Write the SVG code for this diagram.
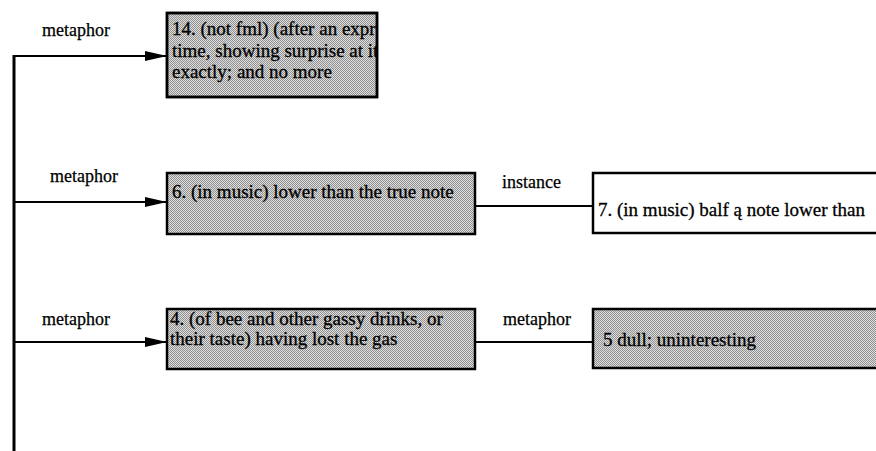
<svg xmlns="http://www.w3.org/2000/svg" width="876" height="451" viewBox="0 0 876 451">
  <defs>
    <!-- halftone-like grey fill for sense boxes -->
    <pattern id="dots" width="2" height="2" patternUnits="userSpaceOnUse">
      <rect width="2" height="2" fill="#dedede"/>
      <rect x="0" y="0" width="1" height="1" fill="#909090"/>
      <rect x="1" y="1" width="1" height="1" fill="#909090"/>
    </pattern>
    <!-- box 14 is narrower than its text; the text is cut at the frame -->
    <clipPath id="clip14">
      <rect x="167" y="13" width="210" height="84"/>
    </clipPath>
    <marker id="arrow" viewBox="0 0 22 10" refX="22" refY="5" markerWidth="22" markerHeight="10" markerUnits="userSpaceOnUse" orient="auto">
      <path d="M0,0 L22,5 L0,10 Z" fill="#000"/>
    </marker>
    <style>
      .box { stroke: #000; stroke-width: 2.5; }
      .grey { fill: url(#dots); }
      .plain { fill: #fff; }
      .txt { font-family: "Liberation Serif", "Times New Roman", serif; font-size: 19px; fill: #000; stroke: #000; stroke-width: 0.3; }
      .lbl { font-family: "Liberation Serif", "Times New Roman", serif; font-size: 18px; fill: #000; stroke: #000; stroke-width: 0.25; }
      .edge { stroke: #000; stroke-width: 2; fill: none; }
      .trunk { stroke: #000; stroke-width: 3; fill: none; }
    </style>
  </defs>

  <rect width="876" height="451" fill="#fff"/>

  <!-- connectors -->
  <g id="connectors">
    <line class="trunk" x1="14" y1="55" x2="14" y2="451"/>
    <polyline class="edge" points="13,56 167,56" marker-end="url(#arrow)"/>
    <polyline class="edge" points="14,202 167,202" marker-end="url(#arrow)"/>
    <polyline class="edge" points="14,342 167,342" marker-end="url(#arrow)"/>
    <line class="edge" x1="475" y1="206" x2="593" y2="206"/>
    <line class="edge" x1="475" y1="342" x2="593" y2="342"/>
    <text class="lbl" x="42" y="36">metaphor</text>
    <text class="lbl" x="50" y="182">metaphor</text>
    <text class="lbl" x="42" y="325">metaphor</text>
    <text class="lbl" x="502" y="188">instance</text>
    <text class="lbl" x="503" y="325">metaphor</text>
  </g>

  <!-- sense 14 -->
  <g id="sense14">
    <rect class="box grey" x="167" y="13" width="210" height="84"/>
    <g clip-path="url(#clip14)">
      <text class="txt" x="172" y="35">14. (not fml) (after an expression of</text>
      <text class="txt" x="172" y="57">time, showing surprise at its shortness)</text>
      <text class="txt" x="172" y="78">exactly; and no more</text>
    </g>
    <rect x="167" y="13" width="210" height="84" fill="none" stroke="#000" stroke-width="2.5"/>
  </g>

  <!-- sense 6 -->
  <g id="sense6">
    <rect class="box grey" x="167" y="173" width="308" height="61"/>
    <text class="txt" x="172" y="198">6. (in music) lower than the true note</text>
  </g>

  <!-- sense 7 -->
  <g id="sense7">
    <rect class="box plain" x="593" y="173" width="290" height="60"/>
    <text class="txt" x="598" y="216">7. (in music) balf ą note lower than</text>
  </g>

  <!-- sense 4 -->
  <g id="sense4">
    <rect class="box grey" x="167" y="309" width="308" height="60"/>
    <text class="txt" x="170" y="325">4. (of bee and other gassy drinks, or</text>
    <text class="txt" x="170" y="345">their taste) having lost the gas</text>
  </g>

  <!-- sense 5 -->
  <g id="sense5">
    <rect class="box grey" x="593" y="309" width="290" height="59"/>
    <text class="txt" x="603" y="346">5 dull; uninteresting</text>
  </g>
</svg>
